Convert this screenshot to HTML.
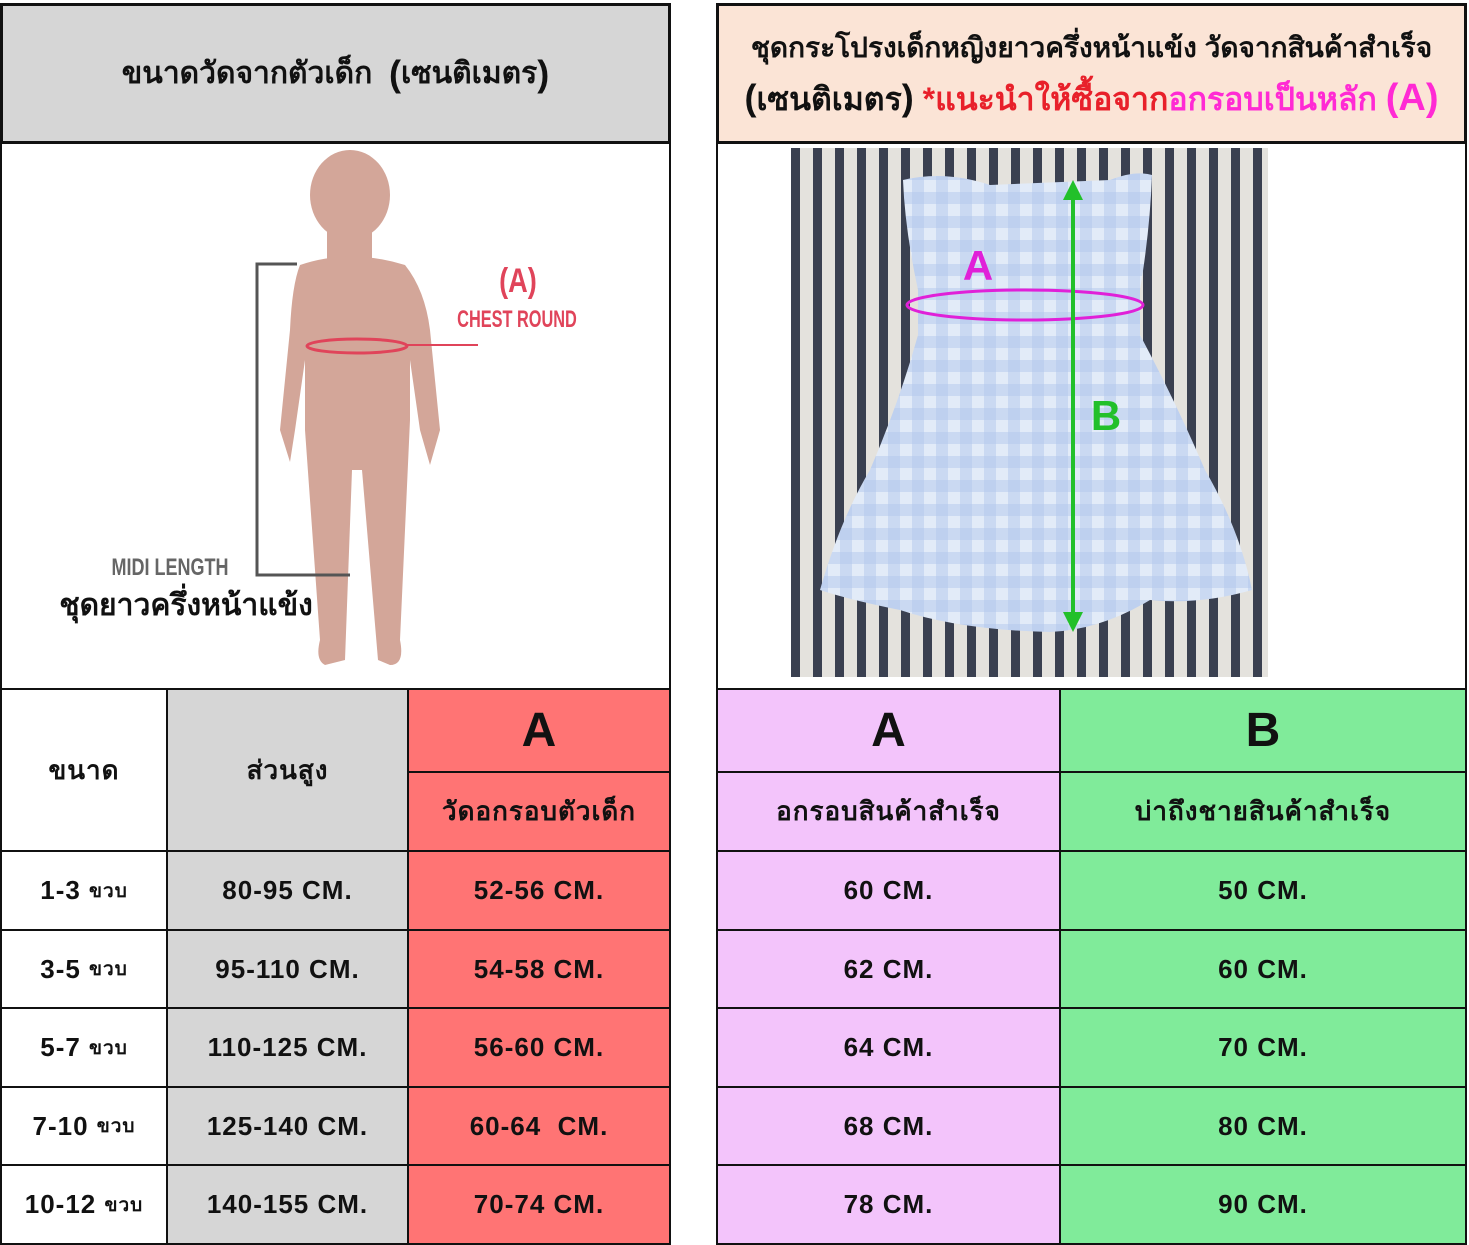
<!DOCTYPE html>
<html><head><meta charset="utf-8"><style>
body{margin:0;width:1469px;height:1244px;background:#fff;position:relative;overflow:hidden;font-family:"Liberation Sans","Noto Sans CJK SC",sans-serif;font-weight:bold;color:#111}
.c{position:absolute;box-sizing:border-box;border:2px solid #111;display:flex;align-items:center;justify-content:center;text-align:center}
.t{font-size:26px;letter-spacing:1px}
</style></head><body>
<div class="c" style="left:0;top:3px;width:671px;height:141px;background:#d6d6d6;font-size:30px;border-width:3px">ขนาดวัดจากตัวเด็ก &nbsp;<span style="font-size:36px">(</span>เซนติเมตร<span style="font-size:36px">)</span></div>
<div class="c" style="left:0;top:142px;width:671px;height:548px;border-top:none"></div>
<div class="c" style="left:716px;top:3px;width:751px;height:141px;background:#fbe4d6;font-size:28px;line-height:50px;border-width:3px;flex-direction:column">
<div>ชุดกระโปรงเด็กหญิงยาวครึ่งหน้าแข้ง วัดจากสินค้าสำเร็จ</div>
<div style="font-size:32px"><span style="font-size:36px">(</span>เซนติเมตร<span style="font-size:36px">)</span> <span style="color:#e8202a">*แนะนำให้ซื้อจาก</span><span style="color:#ff2ad4">อกรอบเป็นหลัก <span style="font-size:38px">(A)</span></span></div></div>
<div class="c" style="left:716px;top:142px;width:751px;height:548px;border-top:none"></div>

<svg style="position:absolute;left:0;top:0" width="1469" height="1244">
<defs><pattern id="st" x="791" width="22" height="40" patternUnits="userSpaceOnUse"><rect width="22" height="40" fill="#e4e2dd"/><rect x="0" width="9" height="40" fill="#3a4050"/></pattern>
<pattern id="gg" width="24" height="24" patternUnits="userSpaceOnUse"><rect width="24" height="24" fill="#e2ebf8"/><rect width="12" height="24" fill="#b2c8ec" opacity=".5"/><rect width="24" height="12" fill="#b2c8ec" opacity=".5"/></pattern></defs>
<g fill="#d3a699">
<ellipse cx="350" cy="195" rx="40" ry="45"/>
<rect x="327" y="225" width="45" height="45"/>
<path d="M300 265 Q350 248 405 265 Q425 290 430 330 L440 430 L430 465 L420 430 L410 360 L410 420 L400 640 Q405 665 390 665 L378 660 L362 470 L352 470 L345 660 L325 665 Q315 660 320 640 L305 430 L305 360 L295 430 L290 462 L280 430 L290 330 Q292 285 300 265Z"/>
</g>
<path d="M297 264 H257 V575 H350" stroke="#555" stroke-width="3" fill="none"/>
<ellipse cx="357" cy="346" rx="50" ry="7" stroke="#e0445a" stroke-width="3" fill="none"/>
<line x1="405" y1="345" x2="478" y2="345" stroke="#e0445a" stroke-width="2"/>
<text x="518" y="292" fill="#e0445a" font-size="34" text-anchor="middle" font-weight="bold" transform="translate(518 0) scale(0.8 1) translate(-518 0)">(A)</text>
<text x="517" y="327" fill="#e0445a" font-size="24" text-anchor="middle" font-weight="bold" transform="translate(517 0) scale(0.68 1) translate(-517 0)">CHEST ROUND</text>
<text x="170" y="575" fill="#666" font-size="24" text-anchor="middle" font-weight="bold" transform="translate(170 0) scale(0.75 1) translate(-170 0)">MIDI LENGTH</text>
<text x="186" y="615" fill="#111" font-size="30" text-anchor="middle">ชุดยาวครึ่งหน้าแข้ง</text>
<rect x="791" y="148" width="477" height="529" fill="url(#st)"/>
<path d="M903 180 Q945 170 990 185 L1110 180 Q1135 170 1152 175 Q1150 230 1140 290 L1140 335 Q1175 400 1205 470 Q1240 530 1252 590 Q1200 605 1150 600 Q1100 630 1050 632 Q960 630 900 610 Q850 600 820 590 Q840 520 870 470 Q900 400 918 335 L918 290 Q905 230 903 180Z" fill="url(#gg)"/>
<ellipse cx="1025" cy="305" rx="118" ry="15" stroke="#e020d8" stroke-width="3" fill="none"/>
<line x1="1073" y1="190" x2="1073" y2="620" stroke="#22c02a" stroke-width="4"/>
<path d="M1063 200 L1073 180 L1083 200Z M1063 612 L1073 632 L1083 612Z" fill="#22c02a"/>
<text x="978" y="280" fill="#e020d8" font-size="42" font-weight="bold" text-anchor="middle">A</text>
<text x="1106" y="430" fill="#22c02a" font-size="42" font-weight="bold" text-anchor="middle">B</text>
</svg>

<div class="c t" style="left:0;top:688px;width:168px;height:164px;">ขนาด</div>
<div class="c t" style="left:166px;top:688px;width:243px;height:164px;background:#d6d6d6">ส่วนสูง</div>
<div class="c" style="left:407px;top:688px;width:264px;height:85px;background:#ff7474;font-size:48px">A</div>
<div class="c t" style="left:407px;top:771px;width:264px;height:81px;background:#ff7474">วัดอกรอบตัวเด็ก</div>
<div class="c" style="left:716px;top:688px;width:345px;height:85px;background:#f3c4fb;font-size:48px">A</div>
<div class="c t" style="left:716px;top:771px;width:345px;height:81px;background:#f3c4fb">อกรอบสินค้าสำเร็จ</div>
<div class="c" style="left:1059px;top:688px;width:408px;height:85px;background:#80eb9a;font-size:48px">B</div>
<div class="c t" style="left:1059px;top:771px;width:408px;height:81px;background:#80eb9a">บ่าถึงชายสินค้าสำเร็จ</div>

<div id="rows"></div>
<script>
var d=[["1-3","80-95 CM.","52-56 CM.","60 CM.","50 CM."],["3-5","95-110 CM.","54-58 CM.","62 CM.","60 CM."],["5-7","110-125 CM.","56-60 CM.","64 CM.","70 CM."],["7-10","125-140 CM.","60-64 &nbsp;CM.","68 CM.","80 CM."],["10-12","140-155 CM.","70-74 CM.","78 CM.","90 CM."]];
var ys=[850,929,1007,1086,1164,1243],h='';
d.forEach(function(r,i){var y=ys[i],hh=ys[i+1]-y+2;
h+='<div class="c t" style="left:0;top:'+y+'px;width:168px;height:'+hh+'px">'+r[0]+'&nbsp;<span style="font-size:19px">ขวบ</span></div>';
h+='<div class="c t" style="left:166px;top:'+y+'px;width:243px;height:'+hh+'px;background:#d6d6d6">'+r[1]+'</div>';
h+='<div class="c t" style="left:407px;top:'+y+'px;width:264px;height:'+hh+'px;background:#ff7474">'+r[2]+'</div>';
h+='<div class="c t" style="left:716px;top:'+y+'px;width:345px;height:'+hh+'px;background:#f3c4fb">'+r[3]+'</div>';
h+='<div class="c t" style="left:1059px;top:'+y+'px;width:408px;height:'+hh+'px;background:#80eb9a">'+r[4]+'</div>';});
document.getElementById('rows').innerHTML=h;
</script>
</body></html>
